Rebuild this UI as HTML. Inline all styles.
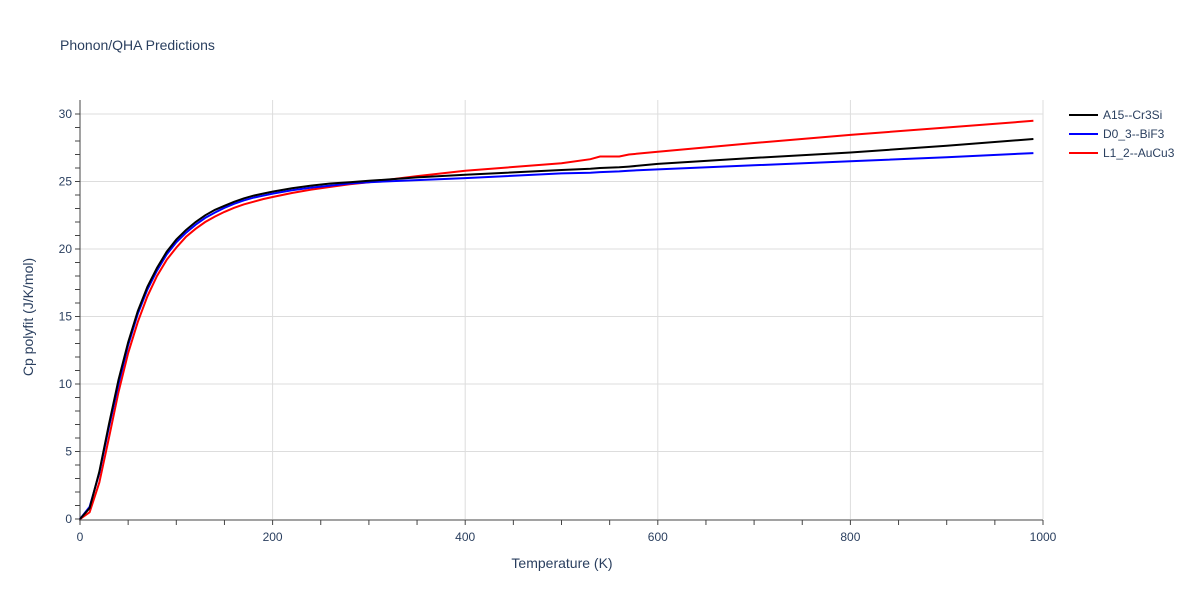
<!DOCTYPE html>
<html><head><meta charset="utf-8"><style>
body{margin:0;background:#fff;font-family:"Liberation Sans",sans-serif;}
svg text{font-family:"Liberation Sans",sans-serif;fill:#2a3f5f;}
</style></head><body>
<svg id="chart" width="1200" height="600">
<rect width="1200" height="600" fill="#fff"/>
<text x="60" y="50" font-size="14">Phonon/QHA Predictions</text>
<g id="grid"></g><g id="axes"></g><g id="series"></g>
<text x="562" y="568" font-size="14" text-anchor="middle">Temperature (K)</text>
<text transform="translate(33,317) rotate(-90)" font-size="14" text-anchor="middle">Cp polyfit (J/K/mol)</text>
<g id="legend"></g>
</svg>
<script>
const temps=[0,10,20,30,40,50,60,70,80,90,100,110,120,130,140,150,160,170,180,190,200,220,240,260,280,300,350,400,500,530,540,560,570,600,700,800,900,990];
const cpA15=[0,0.8,3.5,7.0,10.3,13.1,15.4,17.2,18.6,19.8,20.7,21.4,22.0,22.5,22.9,23.2,23.5,23.75,23.95,24.1,24.25,24.5,24.7,24.85,24.95,25.05,25.3,25.5,25.85,25.95,26.0,26.05,26.1,26.3,26.75,27.15,27.65,28.15];
const cpD03=[0,0.9,3.4,6.8,10.0,12.9,15.2,17.0,18.4,19.6,20.5,21.2,21.8,22.3,22.7,23.05,23.35,23.6,23.8,23.95,24.1,24.35,24.55,24.7,24.85,24.95,25.1,25.25,25.6,25.65,25.7,25.75,25.8,25.9,26.2,26.5,26.8,27.1];
const cpL12=[0,0.5,2.7,6.0,9.4,12.3,14.6,16.5,18.0,19.2,20.1,20.9,21.5,22.0,22.4,22.75,23.05,23.3,23.5,23.7,23.85,24.15,24.4,24.6,24.8,24.95,25.4,25.8,26.35,26.65,26.85,26.85,27.0,27.2,27.85,28.45,29.0,29.5];
const seriesNames=["A15--Cr3Si","D0_3--BiF3","L1_2--AuCu3"];
const xTicks=[0,200,400,600,800,1000];
const yTicks=[0,5,10,15,20,25,30];
const NS="http://www.w3.org/2000/svg";
const X=t=>80+t*0.963, Y=v=>519-v*13.5;
function mk(tag,at,parent){const e=document.createElementNS(NS,tag);for(const k in at)e.setAttribute(k,at[k]);parent.appendChild(e);return e;}
const grid=document.getElementById('grid'),axes=document.getElementById('axes');
xTicks.forEach(t=>{
 if(t>0){const g=mk('line',{x1:X(t),x2:X(t),y1:100,y2:519,stroke:'#ddd'},grid);
 
 }
 const l=mk('text',{x:X(t),y:541,'font-size':12,'text-anchor':'middle'},axes);l.textContent=t;
 
 
});
for(let t=0;t<=1000;t+=50){mk('line',{x1:X(t),x2:X(t),y1:520,y2:525,stroke:'#444'},axes);}
yTicks.forEach(v=>{
 if(v>0){const g=mk('line',{x1:80,x2:1043,y1:Y(v),y2:Y(v),stroke:'#ddd'},grid);
 
 }
 const l=mk('text',{x:72,y:Y(v)+4,'font-size':12,'text-anchor':'end'},axes);l.textContent=v;
 
 
});
for(let v=0;v<=30;v++){mk('line',{x1:75,x2:80,y1:Y(v),y2:Y(v),stroke:'#444'},axes);}
mk('line',{x1:80,x2:80,y1:100,y2:520,stroke:'#444'},axes);
mk('line',{x1:79,x2:1043,y1:520,y2:520,stroke:'#444'},axes);
const colors=['#000','#00f','#f00'];
const data=[cpA15,cpD03,cpL12];
const sg=document.getElementById('series'),lg=document.getElementById('legend');
[2,1,0].forEach(i=>{
 const d=temps.map((t,j)=>(j?'L':'M')+X(t).toFixed(1)+','+Y(data[i][j]).toFixed(1)).join('');
 const p=mk('path',{d:d,fill:'none',stroke:colors[i],'stroke-width':2},sg);
 
 
});
seriesNames.forEach((n,i)=>{
 const g=mk('g',{},lg);
 
 
 const y=115+i*19;
 mk('line',{x1:1069,x2:1098,y1:y,y2:y,stroke:colors[i],'stroke-width':2},g);
 const t=mk('text',{x:1103,y:y+4,'font-size':12},g);t.textContent=n;
});
</script>
</body></html>
